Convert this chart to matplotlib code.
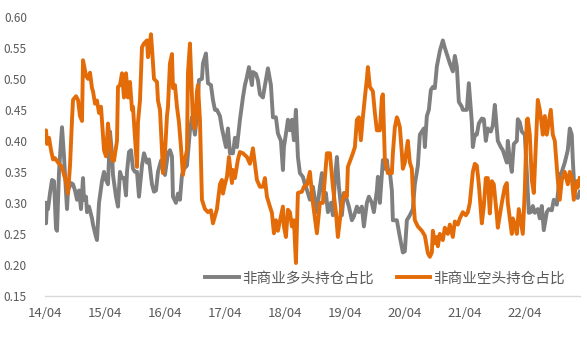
import numpy as np
import matplotlib.pyplot as plt

plt.rcParams['font.family'] = ['Noto Sans CJK SC', 'DejaVu Sans']

# months since 2014/04
long_months = [0, 0.2, 0.4, 0.6, 1.0, 1.4, 1.8, 2.2, 2.4, 2.8, 3.2, 3.4, 3.8, 4.0, 4.4, 4.6, 5.2, 5.6, 6.0, 6.4,
               6.8, 7.2, 7.6, 7.8, 8.2, 8.4, 8.8, 9.4, 9.6, 10.2, 10.4, 10.8, 11.4, 11.8, 12.2, 12.6, 13.0, 13.4, 13.6, 14.2,
               14.6, 15.0, 15.4, 15.8, 16.2, 16.4, 16.8, 17.2, 17.6, 18.0, 18.4, 18.8, 19.4, 19.8, 20.4, 20.8, 21.4, 21.8, 22.2, 22.6,
               23.2, 23.6, 24.0, 24.6, 25.0, 25.4, 25.6, 26.2, 26.6, 27.0, 27.4, 27.8, 28.4, 29.0, 29.4, 30.0, 30.4, 30.8, 31.4, 31.6,
               32.2, 32.6, 33.2, 33.6, 34.0, 34.4, 35.0, 35.4, 35.8, 36.2, 36.6, 37.0, 37.6, 38.0, 38.4, 39.0, 39.6, 40.0, 40.4, 40.8,
               41.4, 41.6, 42.2, 42.6, 43.0, 43.6, 43.8, 44.2, 44.6, 45.2, 45.6, 46.2, 46.6, 47.2, 47.6, 47.8, 48.4, 48.6, 49.0, 49.4,
               49.8, 50.2, 50.6, 51.0, 51.6, 52.0, 52.4, 53.0, 53.6, 54.0, 54.4, 55.0, 55.4, 55.8, 56.2, 56.6, 57.2, 57.6, 58.0, 58.4,
               58.8, 59.4, 59.8, 60.4, 60.8, 61.4, 61.8, 62.4, 62.8, 63.4, 63.8, 64.4, 64.8, 65.4, 65.8, 66.4, 66.6, 67.0, 67.6, 68.0,
               68.4, 68.6, 69.0, 69.4, 69.6, 70.4, 71.0, 71.6, 72.0, 72.4, 73.0, 73.6, 74.0, 74.6, 75.0, 75.4, 75.8, 76.0, 76.4, 76.8,
               77.2, 77.6, 78.0, 78.4, 79.0, 79.6, 80.0, 80.6, 81.0, 81.6, 82.0, 82.4, 82.8, 83.4, 83.6, 84.4, 84.8, 85.4, 85.6, 86.0,
               86.4, 86.8, 87.4, 87.8, 88.2, 88.6, 89.2, 89.6, 90.0, 90.6, 91.2, 91.6, 92.0, 92.4, 92.6, 93.0, 93.4, 93.8, 94.4, 94.6,
               95.0, 95.4, 96.0, 96.4, 96.8, 97.2, 97.6, 98.0, 98.6, 99.0, 99.4, 99.8, 100.4, 100.8, 101.4, 101.8, 102.4, 103.0, 103.4, 104.0,
               104.6, 105.0, 105.4, 105.6, 106.0, 106.6, 107.0]
long_share = [0.300, 0.267, 0.300, 0.290, 0.316, 0.337, 0.335, 0.258, 0.255, 0.350, 0.400, 0.422, 0.375, 0.345, 0.290, 0.320, 0.332, 0.330, 0.320, 0.305,
              0.320, 0.290, 0.340, 0.305, 0.310, 0.285, 0.294, 0.275, 0.265, 0.245, 0.240, 0.300, 0.335, 0.350, 0.337, 0.330, 0.415, 0.380, 0.345, 0.310,
              0.294, 0.350, 0.340, 0.340, 0.312, 0.350, 0.382, 0.385, 0.355, 0.350, 0.350, 0.310, 0.360, 0.380, 0.365, 0.370, 0.330, 0.318, 0.320, 0.350,
              0.368, 0.370, 0.345, 0.380, 0.385, 0.375, 0.310, 0.300, 0.315, 0.305, 0.345, 0.355, 0.360, 0.417, 0.438, 0.410, 0.440, 0.498, 0.500, 0.525,
              0.541, 0.493, 0.490, 0.466, 0.450, 0.450, 0.440, 0.420, 0.405, 0.390, 0.420, 0.380, 0.380, 0.405, 0.390, 0.434, 0.470, 0.490, 0.503, 0.519,
              0.490, 0.511, 0.508, 0.498, 0.475, 0.470, 0.480, 0.498, 0.517, 0.490, 0.438, 0.438, 0.412, 0.400, 0.353, 0.390, 0.422, 0.434, 0.417, 0.434,
              0.401, 0.450, 0.374, 0.348, 0.342, 0.330, 0.321, 0.305, 0.326, 0.305, 0.285, 0.326, 0.348, 0.305, 0.316, 0.285, 0.300, 0.280, 0.337, 0.374,
              0.326, 0.280, 0.316, 0.305, 0.294, 0.272, 0.278, 0.294, 0.285, 0.294, 0.262, 0.300, 0.310, 0.300, 0.285, 0.320, 0.342, 0.300, 0.369, 0.355,
              0.369, 0.355, 0.350, 0.320, 0.272, 0.272, 0.245, 0.220, 0.222, 0.272, 0.280, 0.290, 0.330, 0.360, 0.410, 0.415, 0.420, 0.390, 0.440, 0.450,
              0.482, 0.487, 0.485, 0.520, 0.545, 0.562, 0.550, 0.535, 0.525, 0.512, 0.537, 0.520, 0.463, 0.455, 0.450, 0.450, 0.493, 0.430, 0.390, 0.410,
              0.410, 0.428, 0.436, 0.435, 0.400, 0.420, 0.415, 0.425, 0.458, 0.400, 0.390, 0.385, 0.375, 0.365, 0.400, 0.370, 0.350, 0.395, 0.400, 0.435,
              0.430, 0.415, 0.410, 0.350, 0.284, 0.285, 0.295, 0.284, 0.290, 0.275, 0.295, 0.256, 0.285, 0.290, 0.288, 0.305, 0.297, 0.345, 0.350, 0.365,
              0.385, 0.420, 0.410, 0.370, 0.310, 0.308, 0.318]

short_months = [0, 0.2, 0.4, 0.8, 1.2, 1.6, 2.0, 2.6, 3.2, 3.6, 3.8, 4.2, 4.6, 5.0, 5.4, 5.6, 6.2, 6.6, 7.0, 7.4,
                7.6, 8.2, 8.6, 9.0, 9.4, 9.6, 10.0, 10.4, 10.8, 11.2, 11.6, 11.8, 12.2, 12.6, 13.0, 13.4, 13.8, 14.4, 14.6, 15.0,
                15.4, 15.8, 16.2, 16.6, 17.0, 17.4, 17.6, 18.0, 18.4, 18.6, 19.0, 19.4, 19.8, 20.4, 20.6, 21.2, 21.4, 21.8, 22.4, 22.6,
                23.0, 23.4, 23.6, 24.0, 24.4, 24.6, 25.0, 25.4, 25.6, 26.0, 26.4, 26.8, 27.2, 27.6, 28.0, 28.4, 28.6, 29.0, 29.4, 29.6,
                30.0, 30.4, 30.6, 31.0, 31.4, 32.0, 32.6, 33.2, 33.6, 34.4, 35.0, 35.4, 35.6, 36.0, 36.4, 36.8, 37.4, 37.6, 38.0, 38.6,
                39.0, 39.6, 40.4, 41.0, 41.6, 42.4, 43.0, 43.6, 44.0, 44.4, 45.0, 45.4, 45.8, 46.2, 46.6, 47.2, 47.6, 47.8, 48.2, 48.6,
                49.0, 49.4, 49.8, 50.2, 50.6, 51.4, 51.8, 52.4, 53.0, 53.6, 54.4, 55.0, 55.6, 56.4, 57.0, 57.6, 58.2, 58.6, 59.4, 60.0,
                60.4, 60.6, 61.6, 62.0, 62.4, 62.8, 63.2, 63.6, 64.0, 64.4, 64.6, 65.0, 65.6, 66.0, 66.4, 67.0, 67.4, 67.6, 68.0, 68.6,
                69.4, 69.6, 70.0, 70.4, 70.6, 71.0, 71.4, 71.6, 72.0, 72.4, 72.6, 73.0, 73.4, 73.6, 74.0, 74.6, 75.4, 76.0, 76.6, 77.0,
                77.4, 77.6, 78.0, 78.4, 78.6, 79.0, 79.6, 80.0, 80.6, 81.0, 81.6, 82.0, 82.6, 83.0, 83.6, 84.2, 84.6, 85.0, 85.6, 86.0,
                86.4, 86.8, 87.4, 87.8, 88.2, 88.6, 89.0, 89.4, 89.8, 90.4, 90.6, 91.4, 92.0, 92.4, 92.6, 93.0, 93.4, 93.6, 94.0, 94.4,
                94.8, 95.2, 95.6, 96.0, 96.4, 96.6, 97.0, 97.4, 97.8, 98.2, 98.6, 99.0, 99.4, 99.6, 100.0, 100.4, 100.8, 101.2, 101.6, 102.0,
                102.6, 103.0, 103.4, 104.0, 104.6, 105.0, 105.4, 105.8, 106.4, 106.6, 107.0]
short_share = [0.415, 0.417, 0.395, 0.405, 0.385, 0.370, 0.372, 0.365, 0.360, 0.352, 0.345, 0.335, 0.315, 0.360, 0.434, 0.466, 0.472, 0.466, 0.440, 0.432,
               0.530, 0.505, 0.500, 0.510, 0.485, 0.480, 0.460, 0.465, 0.445, 0.455, 0.410, 0.385, 0.375, 0.428, 0.395, 0.369, 0.368, 0.400, 0.487, 0.490,
               0.509, 0.470, 0.509, 0.470, 0.495, 0.450, 0.455, 0.405, 0.358, 0.430, 0.465, 0.551, 0.557, 0.562, 0.535, 0.572, 0.550, 0.500, 0.495, 0.465,
               0.450, 0.385, 0.348, 0.380, 0.440, 0.455, 0.525, 0.540, 0.485, 0.490, 0.455, 0.430, 0.390, 0.345, 0.370, 0.385, 0.510, 0.557, 0.470, 0.430,
               0.420, 0.480, 0.490, 0.434, 0.305, 0.290, 0.285, 0.288, 0.267, 0.290, 0.330, 0.337, 0.315, 0.330, 0.342, 0.374, 0.332, 0.353, 0.340, 0.370,
               0.382, 0.380, 0.374, 0.363, 0.388, 0.337, 0.326, 0.326, 0.340, 0.310, 0.294, 0.284, 0.251, 0.272, 0.255, 0.278, 0.294, 0.262, 0.245, 0.289,
               0.285, 0.262, 0.272, 0.203, 0.316, 0.318, 0.326, 0.329, 0.350, 0.300, 0.251, 0.300, 0.300, 0.380, 0.380, 0.326, 0.285, 0.245, 0.300, 0.316,
               0.310, 0.358, 0.380, 0.390, 0.434, 0.438, 0.401, 0.438, 0.470, 0.500, 0.519, 0.487, 0.480, 0.445, 0.417, 0.417, 0.470, 0.475, 0.369, 0.348,
               0.348, 0.380, 0.422, 0.438, 0.434, 0.422, 0.380, 0.355, 0.365, 0.390, 0.400, 0.365, 0.355, 0.316, 0.272, 0.262, 0.255, 0.247, 0.219, 0.213,
               0.220, 0.255, 0.235, 0.245, 0.230, 0.250, 0.240, 0.260, 0.250, 0.265, 0.245, 0.270, 0.265, 0.275, 0.285, 0.280, 0.285, 0.300, 0.350, 0.363,
               0.360, 0.330, 0.267, 0.295, 0.340, 0.340, 0.283, 0.335, 0.330, 0.280, 0.260, 0.300, 0.326, 0.332, 0.300, 0.275, 0.250, 0.275, 0.265, 0.250,
               0.290, 0.270, 0.250, 0.320, 0.434, 0.436, 0.410, 0.337, 0.316, 0.390, 0.466, 0.450, 0.425, 0.410, 0.440, 0.410, 0.430, 0.450, 0.410, 0.400,
               0.337, 0.305, 0.337, 0.350, 0.330, 0.350, 0.340, 0.305, 0.335, 0.325, 0.340]

tick_months = [0, 12, 24, 36, 48, 60, 72, 84, 96]
tick_labels = ['14/04', '15/04', '16/04', '17/04', '18/04', '19/04', '20/04', '21/04', '22/04']
y_ticks = [0.15, 0.20, 0.25, 0.30, 0.35, 0.40, 0.45, 0.50, 0.55, 0.60]

fig = plt.figure(figsize=(5.87, 3.51), dpi=100)
ax = fig.add_axes([0.0767, 0.157, 0.911, 0.795])

ax.plot(long_months, long_share, color='#7f7f7f', lw=2.8, label='非商业多头持仓占比', solid_joinstyle='round')
ax.plot(short_months, short_share, color='#e36c09', lw=2.8, label='非商业空头持仓占比', solid_joinstyle='round')

ax.set_xlim(0, 107)
ax.set_ylim(0.15, 0.60)
ax.set_xticks(tick_months)
ax.set_xticklabels(tick_labels)
ax.set_yticks(y_ticks)
ax.set_yticklabels(['%.2f' % v for v in y_ticks])
ax.tick_params(axis='both', length=0, labelsize=8.5, colors='#595959')
ax.tick_params(axis='x', labelsize=9.5, pad=8)
ax.tick_params(axis='y', pad=13)

for s in ['top', 'right', 'left']:
    ax.spines[s].set_visible(False)
ax.spines['bottom'].set_color('#d9d9d9')
ax.spines['bottom'].set_linewidth(1)

leg = ax.legend(loc='lower center', bbox_to_anchor=(0.636, -0.01), ncol=2, frameon=False,
                fontsize=10.5, handlelength=2.3, handletextpad=0.2, columnspacing=1.6)
for t in leg.get_texts():
    t.set_color('#595959')

fig.savefig('out.png', dpi=100)
